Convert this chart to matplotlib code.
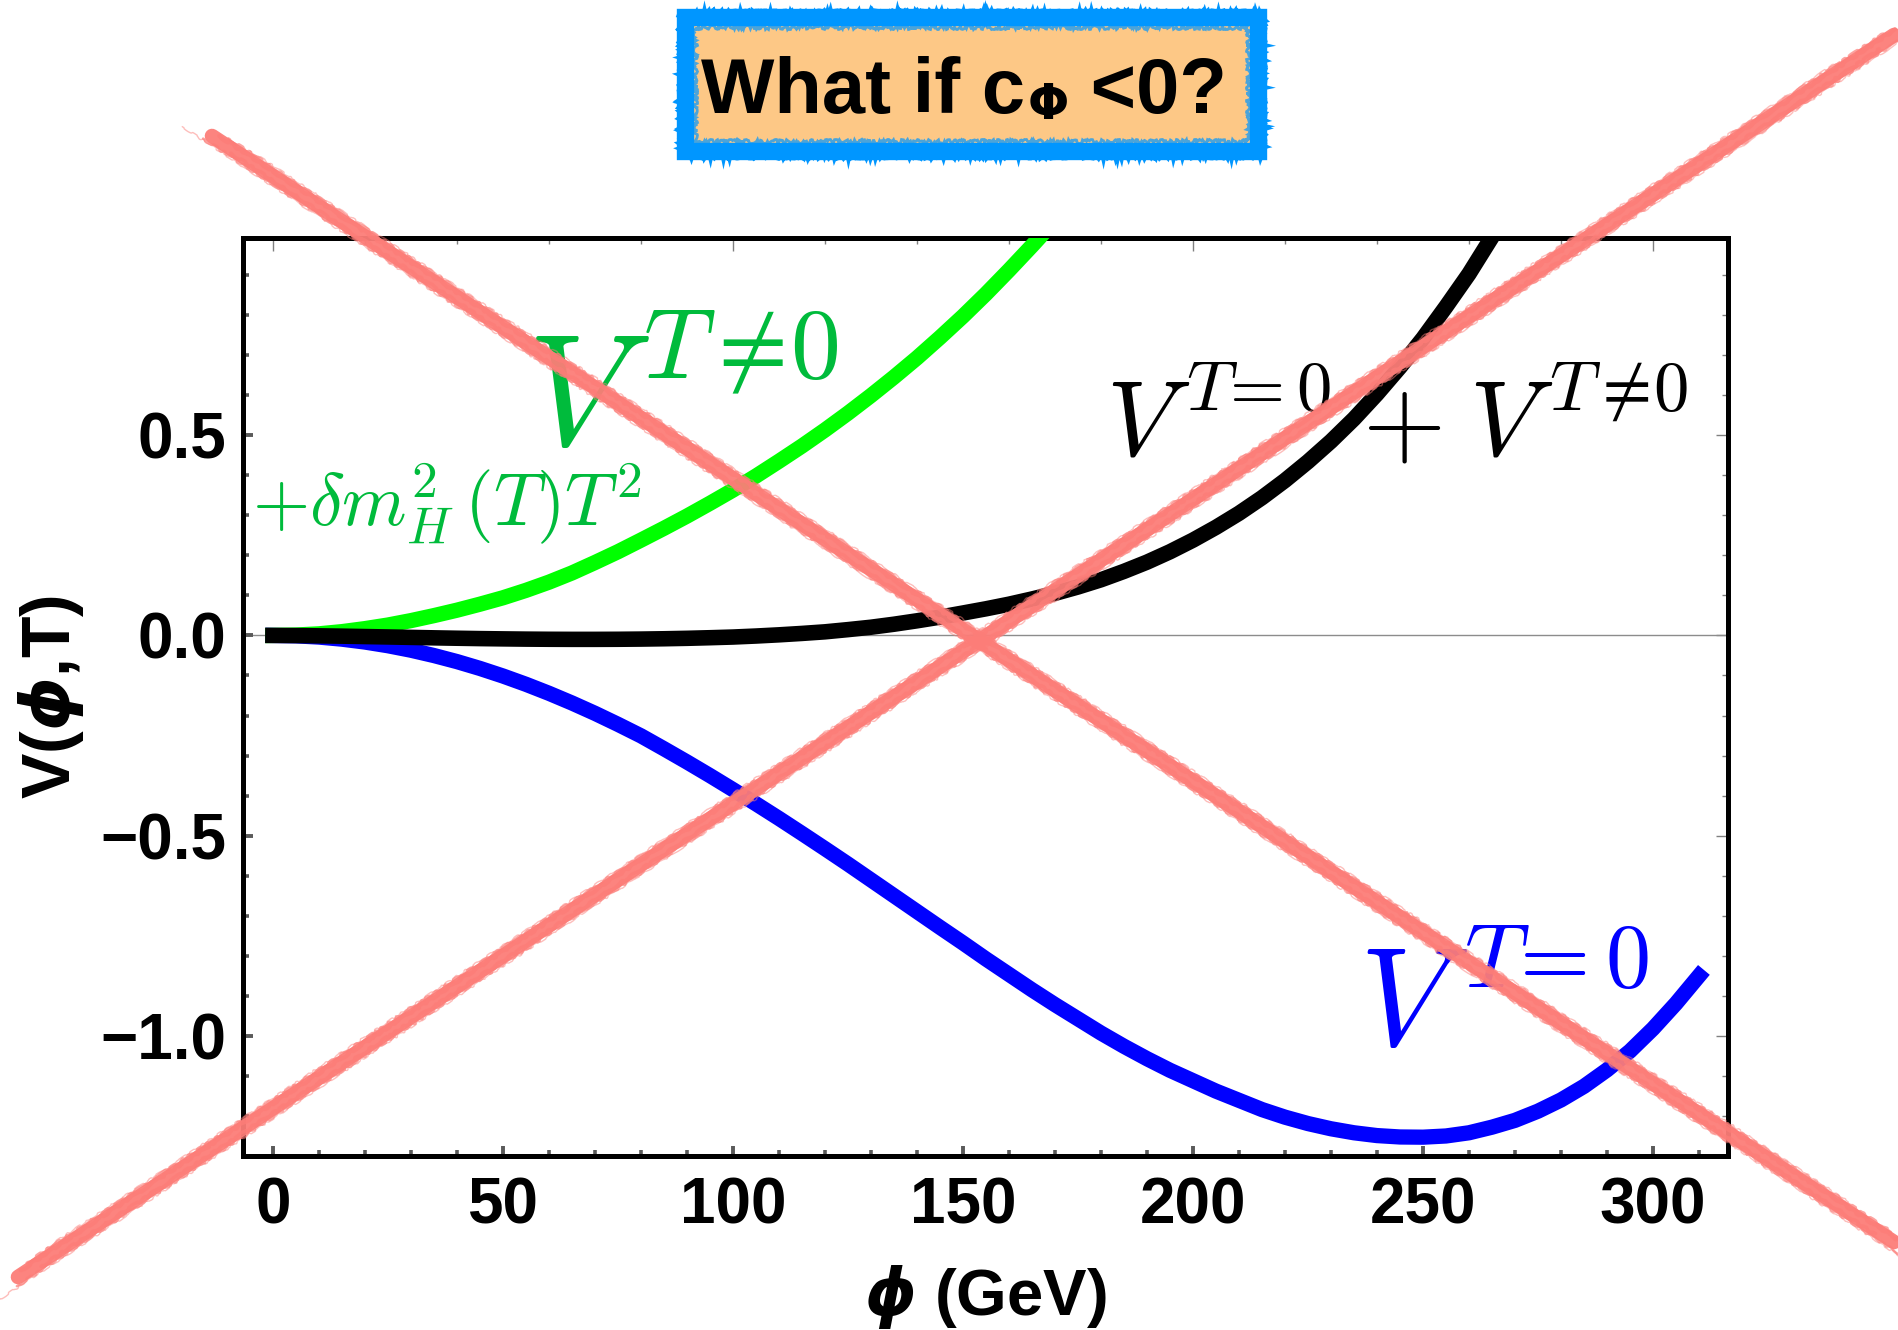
import matplotlib
matplotlib.use("Agg")
import matplotlib.pyplot as plt
from matplotlib.lines import Line2D
from matplotlib.patches import Rectangle
from matplotlib.ticker import MultipleLocator, FixedLocator

# ---------------- data ----------------
phi_zero_T = list(range(0, 315, 5))
v_zero_T = [0.0, -0.001, -0.0041, -0.0093, -0.0165, -0.0257, -0.0369, -0.0502, -0.0653, -0.0824,
            -0.1013, -0.122, -0.1445, -0.1687, -0.1945, -0.222, -0.2507, -0.283, -0.316, -0.350,
            -0.385, -0.4205, -0.457, -0.4945, -0.5325, -0.571, -0.6105, -0.65, -0.6895, -0.729,
            -0.768, -0.808, -0.8465, -0.885, -0.922, -0.9575, -0.993, -1.026, -1.057, -1.086,
            -1.112, -1.138, -1.161, -1.184, -1.203, -1.219, -1.232, -1.242, -1.249, -1.2525,
            -1.253, -1.250, -1.242, -1.228, -1.211, -1.188, -1.160, -1.126, -1.085, -1.038,
            -0.982, -0.919, -0.850]

phi_total = list(range(0, 275, 5))
v_total = [0.0, -0.0003, -0.001, -0.0018, -0.0028, -0.0038, -0.0049, -0.006, -0.007, -0.0079,
           -0.0086, -0.0092, -0.0096, -0.0098, -0.0098, -0.0096, -0.0091, -0.0083, -0.0072, -0.0057,
           -0.004, -0.0015, 0.0015, 0.005, 0.009, 0.0145, 0.0205, 0.028, 0.0365, 0.0457,
           0.056, 0.0665, 0.078, 0.091, 0.105, 0.121, 0.139, 0.160, 0.183, 0.209,
           0.238, 0.270, 0.305, 0.344, 0.387, 0.434, 0.485, 0.541, 0.603, 0.670,
           0.742, 0.821, 0.903, 0.995, 1.094]

phi_thermal = list(range(0, 175, 5))
v_thermal = [0.0, 0.001, 0.004, 0.0095, 0.017, 0.026, 0.037, 0.0495, 0.063, 0.078,
             0.094, 0.1125, 0.133, 0.156, 0.182, 0.209, 0.238, 0.2675, 0.298, 0.33,
             0.363, 0.398, 0.435, 0.473, 0.513, 0.555, 0.599, 0.645, 0.693, 0.744,
             0.797, 0.853, 0.912, 0.973, 1.036]

x_major = [0, 50, 100, 150, 200, 250, 300]
y_major = [-1.0, -0.5, 0.0, 0.5]
y_labels = ["\u22121.0", "\u22120.5", "0.0", "0.5"]

title_main = "What if c"
title_sub = "\u03A6"
title_tail = " <0?"

# ---------------- styling ----------------
plt.rcParams["font.family"] = ["Liberation Sans", "DejaVu Sans"]
plt.rcParams["mathtext.fontset"] = "custom"
plt.rcParams["mathtext.rm"] = "Liberation Sans:bold"
plt.rcParams["mathtext.bf"] = "Liberation Sans:bold"
plt.rcParams["mathtext.it"] = "DejaVu Sans:italic:bold"

W, H = 1898, 1330
fig = plt.figure(figsize=(W / 100, H / 100), dpi=100)


def fx(x):
    return x / W


def fy(y):
    return 1 - y / H


ax = fig.add_axes([fx(243), fy(1156), (1728 - 243) / W, (1156 - 238) / H])
ax.set_xlim(-6.5, 316.3)
ax.set_ylim(-1.300, 0.9925)

ax.axhline(0, color="#8c8c8c", lw=1.0, zorder=1)
ax.plot(phi_zero_T, v_zero_T, color="#0000ff", lw=11.0, solid_capstyle="projecting", zorder=3)
ax.plot(phi_thermal, v_thermal, color="#00ff00", lw=11.0, solid_capstyle="projecting", zorder=3)
ax.plot(phi_total, v_total, color="black", lw=11.2, solid_capstyle="projecting", zorder=4)

for s in ax.spines.values():
    s.set_linewidth(3.6)
    s.set_color("black")

tick_col = "#5a5a5a"
ax.set_xticks(x_major)
ax.set_xticklabels([str(v) for v in x_major])
ax.xaxis.set_minor_locator(MultipleLocator(10))
ax.set_yticks(y_major)
ax.set_yticklabels(y_labels)
ax.yaxis.set_minor_locator(MultipleLocator(0.1))
ax.tick_params(which="both", direction="in", color=tick_col, top=False, right=False)
ax.tick_params(which="major", length=7.5, width=2.8, labelsize=46)
ax.tick_params(axis="y", which="major", pad=12)
ax.tick_params(axis="x", which="major", pad=15)
ax.tick_params(which="minor", length=4.5, width=2.6)
for lab in ax.get_xticklabels() + ax.get_yticklabels():
    lab.set_fontweight("bold")

# top / right frame ticks (thin, Mathematica style)
top = ax.secondary_xaxis("top")
top.xaxis.set_major_locator(FixedLocator([0, 100, 200, 300]))
top.xaxis.set_minor_locator(MultipleLocator(20))
top.tick_params(which="both", direction="in", color="#808080", labeltop=False)
top.tick_params(which="major", length=9, width=1.0)
top.tick_params(which="minor", length=4, width=1.0)
top.spines["top"].set_linewidth(3.6)

right = ax.secondary_yaxis("right")
right.yaxis.set_major_locator(FixedLocator(y_major))
right.yaxis.set_minor_locator(MultipleLocator(0.1))
right.tick_params(which="both", direction="in", color="#808080", labelright=False)
right.tick_params(which="major", length=9, width=1.0)
right.tick_params(which="minor", length=4, width=1.0)
right.spines["right"].set_linewidth(3.6)

ax.set_xlabel(r"$\phi$ (GeV)", fontsize=47, fontweight="bold", va="top")
ax.xaxis.set_label_coords(0.5, -0.116)
ax.set_ylabel(r"V($\phi$,T)", fontsize=49, fontweight="bold")
ax.yaxis.set_label_coords(-0.106, 0.5)

# ---------------- annotations (Computer Modern math) ----------------
green_txt = "#00bb3c"


def cm_text(x, y, s, size, color):
    fig.text(fx(x), fy(y), s, fontsize=size, color=color, math_fontfamily="cm",
             va="baseline", ha="left", zorder=5)


# green V^{T!=0}
cm_text(526, 445, r"$V$", 114, green_txt)
cm_text(643, 378, r"$T\neq\!0$", 72, green_txt)
cm_text(252, 525, r"$+\delta m_H^2\,(T)T^2$", 53, green_txt)
# black V^{T=0} + V^{T!=0}
cm_text(1106, 455, r"$V$", 77, "black")
cm_text(1186, 410, r"$T\!=0$", 51, "black")
cm_text(1362, 455, r"$+$", 77, "black")
cm_text(1469, 455, r"$V$", 77, "black")
cm_text(1549, 410, r"$T\neq\!0$", 51, "black")
# blue V^{T=0}
cm_text(1359, 1045, r"$V$", 100, "#0000ff")
cm_text(1464, 987, r"$T\!=0$", 65, "#0000ff")

# ---------------- title box ----------------
box = Rectangle((fx(685), fy(151)), (1258 - 685) / W, (151 - 17) / H,
                transform=fig.transFigure, facecolor="#fdc886", edgecolor="#0096ff",
                lw=12.5, zorder=6)
fig.add_artist(box)
rough = Rectangle((fx(681), fy(155)), (1262 - 681) / W, (155 - 13) / H,
                  transform=fig.transFigure, facecolor="none", edgecolor="#0096ff",
                  lw=3.5, zorder=6)
rough.set_sketch_params(scale=2.5, length=4, randomness=15)
fig.add_artist(rough)
rough2 = Rectangle((fx(695), fy(141)), (1248 - 695) / W, (141 - 27) / H,
                   transform=fig.transFigure, facecolor="none", edgecolor="#0096ff",
                   lw=2.0, alpha=0.7, zorder=6)
rough2.set_sketch_params(scale=2.0, length=4, randomness=15)
fig.add_artist(rough2)

renderer = fig.canvas.get_renderer()
t1 = fig.text(0, fy(113), title_main, fontsize=56, fontweight="bold",
              va="baseline", ha="left", zorder=7)
t2 = fig.text(0, fy(119), title_sub, fontsize=35, fontweight="bold",
              va="baseline", ha="left", zorder=7, family=["DejaVu Sans"])
t3 = fig.text(0, fy(113), title_tail, fontsize=56, fontweight="bold",
              va="baseline", ha="left", zorder=7)
w1 = t1.get_window_extent(renderer).width
w2 = t2.get_window_extent(renderer).width
w3 = t3.get_window_extent(renderer).width
total = w1 + 2 + w2 + w3
x0 = 964 - total / 2
t1.set_x(fx(x0))
t2.set_x(fx(x0 + w1 + 2))
t3.set_x(fx(x0 + w1 + 2 + w2))

# ---------------- red cross (decorative strokes) ----------------
red = "#fc7d78"


def scribble(p0, p1):
    (x0, y0), (x1, y1) = p0, p1
    dx, dy = x1 - x0, y1 - y0
    n = (dx * dx + dy * dy) ** 0.5
    nx, ny = -dy / n, dx / n
    ux, uy = dx / n, dy / n
    strokes = [(0.0, 10.5, 0.95, 0, 0), (-7.0, 1.8, 0.7, 15, -8), (7.0, 1.8, 0.7, -6, 12),
               (-4.0, 3.0, 0.8, 6, 4), (4.0, 2.5, 0.75, 25, -20), (-8.5, 1.0, 0.5, 40, -60),
               (8.5, 1.0, 0.5, -30, 30)]
    for off, lw, a, s0, s1 in strokes:
        xa = x0 + nx * off + ux * s0
        ya = y0 + ny * off + uy * s0
        xb = x1 + nx * off + ux * s1
        yb = y1 + ny * off + uy * s1
        ln = Line2D([fx(xa), fx(xb)], [fy(ya), fy(yb)], transform=fig.transFigure,
                    color=red, lw=lw, alpha=a, solid_capstyle="round", zorder=10)
        if off != 0.0:
            ln.set_sketch_params(scale=1.0, length=30, randomness=10)
        fig.add_artist(ln)


scribble((212, 136), (1894, 1242))
scribble((18, 1277), (1894, 35))

fig.savefig("out.png", dpi=100)
